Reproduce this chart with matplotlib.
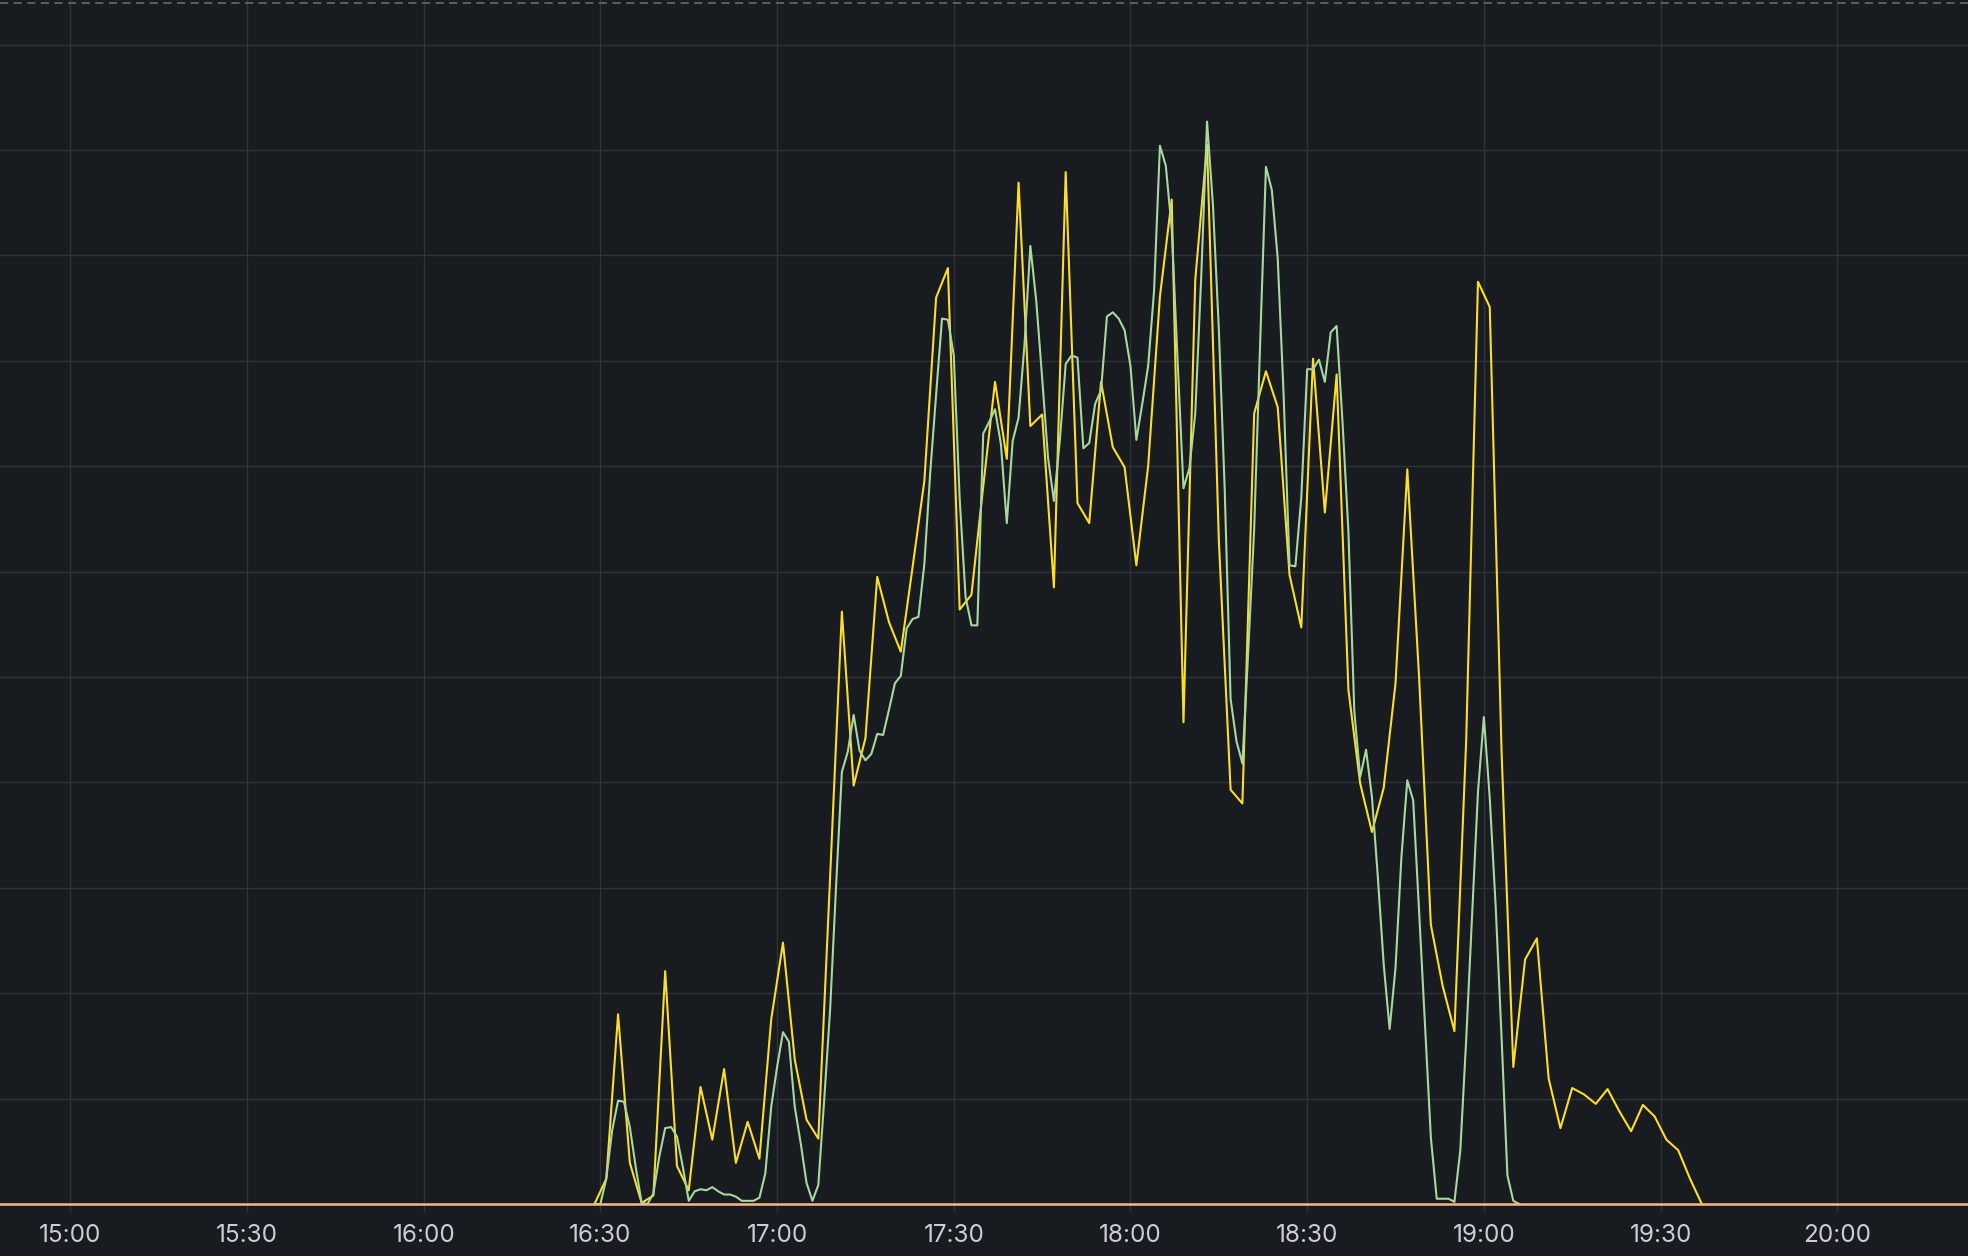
import numpy as np
import matplotlib
matplotlib.use("Agg")
import matplotlib.pyplot as plt

# minutes after 15:00
yellow_min = list(range(89, 278, 2))
yellow_vals = [
    0, 24, 180, 39, 1, 8, 221, 36, 13, 111,
    61, 128, 39, 78, 43, 175, 248, 137, 80, 62,
    310, 562, 397, 442, 595, 552, 524, 604, 686, 860,
    888, 564, 578, 681, 780, 707, 969, 738, 749, 585,
    979, 665, 646, 780, 718, 699, 606, 700, 861, 953,
    457, 877, 1005, 630, 393, 380, 750, 790, 756, 597,
    547, 802, 656, 787, 488, 399, 353, 395, 494, 697,
    500, 265, 207, 164, 440, 875, 851, 430, 130, 232,
    252, 119, 72, 110, 104, 95, 109, 88, 69, 94,
    83, 61, 51, 24, 0,
]

green_min = list(range(89, 247))
green_vals = [
    0, 0, 24, 70, 98, 97, 73, 35, 1, 0,
    10, 45, 72, 73, 64, 35, 3, 12, 14, 13,
    16, 12, 9, 9, 7, 3, 3, 3, 6, 29,
    92, 130, 163, 154, 92, 58, 20, 3, 18, 99,
    184, 300, 410, 429, 464, 430, 421, 427, 446, 445,
    469, 494, 501, 546, 555, 557, 607, 694, 768, 840,
    839, 805, 669, 576, 549, 549, 731, 742, 754, 721,
    646, 724, 746, 815, 909, 857, 784, 708, 667, 724,
    797, 805, 803, 717, 722, 759, 772, 842, 846, 840,
    829, 795, 725, 759, 795, 866, 1004, 985, 925, 800,
    679, 698, 750, 878, 1027, 948, 830, 678, 479, 439,
    418, 525, 640, 814, 984, 962, 897, 768, 606, 605,
    670, 792, 792, 801, 780, 827, 833, 742, 638, 468,
    405, 431, 386, 310, 227, 166, 224, 329, 402, 383,
    278, 171, 63, 5, 5, 5, 2, 51, 156, 273,
    391, 462, 385, 283, 159, 27, 3, 0,
]

tick_min = [0, 30, 60, 90, 120, 150, 180, 210, 240, 270, 300]
tick_labels = ["15:00", "15:30", "16:00", "16:30", "17:00", "17:30",
               "18:00", "18:30", "19:00", "19:30", "20:00"]

BG = "#181b1f"
GRID = "#303338"

fig = plt.figure(figsize=(19.68, 12.56), dpi=100, facecolor=BG)
ax = fig.add_axes([0, 44 / 1256, 1, 1212 / 1256])
ax.set_facecolor(BG)

ax.plot(yellow_min, yellow_vals, color="#FADE2A", lw=1.5, zorder=3)
ax.plot(green_min, green_vals, color="#A8D8A0", lw=1.5, zorder=4)
ax.axhline(0, color="#FFB38A", lw=1.8, zorder=5)
ax.axhline(1139.5, color="#5b5e64", lw=1.4, dashes=(4.2, 2.8), zorder=2)

ax.set_xlim(-11.94, 322.2)
ax.set_ylim(-7.6, 1142.3)

ax.set_xticks(tick_min)
ax.set_xticklabels(tick_labels, family=["Inter", "DejaVu Sans"],
                   fontsize=17.5, color="#cdcdd9")
ax.set_yticks(range(0, 1101, 100))
ax.set_yticklabels([])
ax.tick_params(axis="both", length=0)
ax.tick_params(axis="x", pad=9)
ax.grid(True, color=GRID, lw=1.0, zorder=1)
for s in ax.spines.values():
    s.set_visible(False)

fig.savefig("out.png", dpi=100, facecolor=BG)
